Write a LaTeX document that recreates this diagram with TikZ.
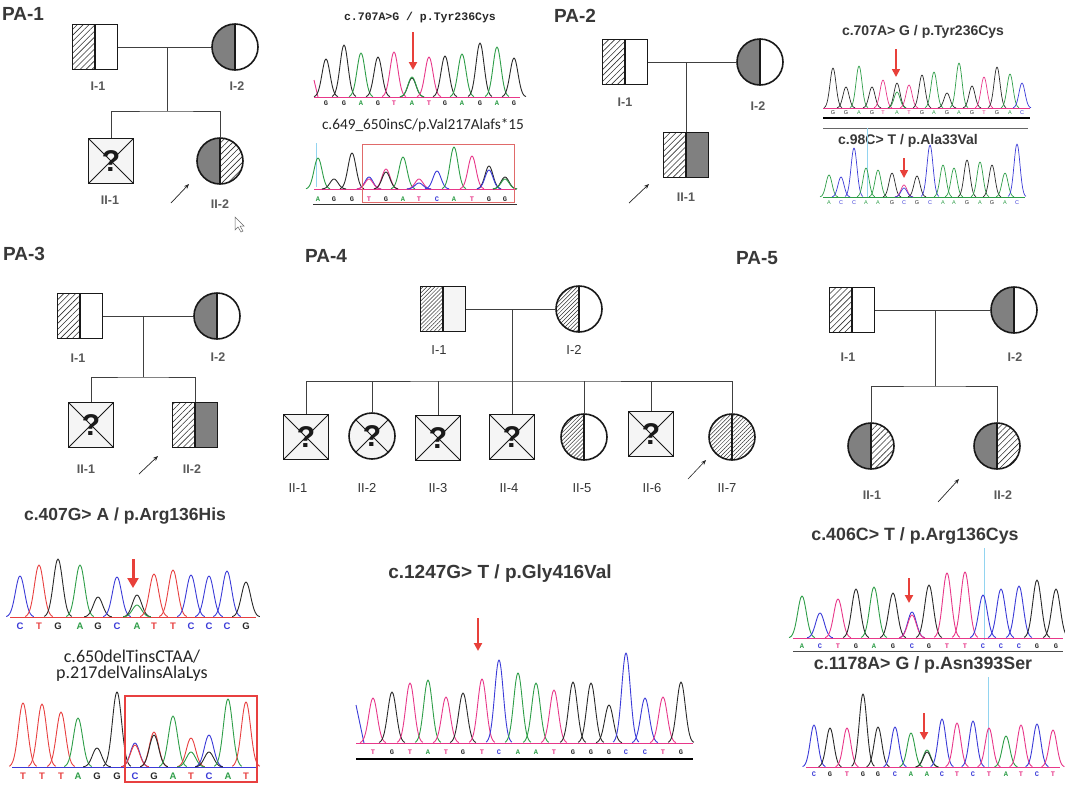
\documentclass[tikz,border=0pt]{standalone}
\usepackage{fontspec}
\setmainfont{Liberation Sans}
\newfontfamily\carlito{Carlito}
\newfontfamily\courierb{Liberation Mono}
\usetikzlibrary{patterns.meta,arrows.meta}

\definecolor{seqA}{HTML}{2E9E48}
\definecolor{seqC}{HTML}{3B3BD8}
\definecolor{seqG}{HTML}{2A2A2A}
\definecolor{seqT}{HTML}{E8388A}
\definecolor{seqR}{HTML}{E84040}
\definecolor{arrowred}{HTML}{E8403A}
\definecolor{boxred}{HTML}{E06A6A}
\definecolor{cyanline}{HTML}{92D4F0}

% one peak per base: x/top/colour
\newcommand{\trace}[4][]{%
  \foreach \px/\py/\pc in {#4}{
    \draw[\pc, line width=0.9pt, line join=round, #1]
      plot[domain=-3*#3:3*#3, samples=25, smooth] ({\px+\x},{#2-(#2-\py)*exp(-(\x*\x)/(2*#3*#3))});
  }}
% base calls: x/letter/colour
\newcommand{\calls}[4]{%
  \foreach \bx/\bl/\bc [count=\bi] in {#4}
    \node[#3, text=\bc] (#1\bi) at (\bx,#2) {\bl};}

\tikzset{
  link/.style={draw=black!75, line width=0.8pt},
  ppl/.style={draw=black!90, line width=1.6pt, inner sep=0pt, minimum size=45pt},
  male/.style={ppl, rectangle},
  female/.style={ppl, circle, minimum size=46pt},
  halves/.style 2 args={path picture={
      \path[#1] (path picture bounding box.south west) rectangle (path picture bounding box.north);
      \path[#2] (path picture bounding box.south) rectangle (path picture bounding box.north east);
      \draw (path picture bounding box.south) -- (path picture bounding box.north);}},
  hatchfill/.style={pattern={Lines[angle=45,distance=4.2pt,line width=0.6pt]}, pattern color=black!80},
  finehatch/.style={pattern={Lines[angle=45,distance=2.8pt,line width=0.5pt]}, pattern color=black!80},
  grayfill/.style={fill=black!50},
  whitefill/.style={fill=white},
  palefill/.style={fill=black!4},
  unknown/.style={fill=black!4, font=\bfseries\fontsize{30}{30}\selectfont, text=black!90,
      path picture={\draw[line width=0.8pt]
        (path picture bounding box.south west) -- (path picture bounding box.north east)
        (path picture bounding box.north west) -- (path picture bounding box.south east);}},
  thinped/.style={line width=0.8pt},
  plabel/.style={font=\bfseries\fontsize{12.5}{13}\selectfont, text=black!65},
  thinlabel/.style={font=\fontsize{13}{14}\selectfont, text=black!80},
  ptitle/.style={font=\bfseries\fontsize{19}{20}\selectfont, text=black!78},
  vtitle/.style={font=\bfseries\fontsize{#1}{#1}\selectfont, text=black!78},
  ctitle/.style={font=\carlito\fontsize{#1}{#1}\selectfont, text=black!85},
  proband/.style={draw=black!85, line width=0.7pt, -{Stealth[length=5pt,width=4pt]}},
  redarrow/.style={draw=arrowred, line width=2pt, -{Triangle[length=8pt,width=8pt]}},
  monocall/.style={font=\courierb\bfseries\fontsize{7}{8}\selectfont, inner sep=0pt},
  tinycall/.style={font=\fontsize{5.5}{6}\selectfont, inner sep=0pt},
  boldcall/.style={font=\bfseries\fontsize{9.5}{10}\selectfont, inner sep=0pt},
}

\begin{document}
\begin{tikzpicture}[x=1pt,y=-1pt]
\fill[white] (0,0) rectangle (1065,785);
\useasboundingbox (0,0) rectangle (1065,785);

% ---------------- PA-1
\node[ptitle] (pa1) at (23,14) {PA-1};
\node[male, halves={hatchfill}{whitefill}] (a1) at (95,47) {};
\node[female, halves={grayfill}{whitefill}] (a2) at (235,47) {};
\node[male, unknown] (a3) at (111,161) {?};
\node[female, halves={grayfill}{hatchfill}] (a4) at (220,161) {};
\coordinate (a12) at (167,47);
\coordinate (a34) at (167,111);
\draw[link] (a1) -- (a2);
\draw[link] (a12) -- (a34);
\draw[link] (a3.north) |- (a34) -| (a4.north);
\node[plabel] (a1l) at (98,86) {I-1};
\node[plabel] (a2l) at (237,86) {I-2};
\node[plabel] (a3l) at (110,200) {II-1};
\node[plabel] (a4l) at (220,204) {II-2};
\draw[proband] (171,203) -- (189,184);
\filldraw[fill=white, draw=black!60, line width=0.5pt]
  (235,217) -- (235,230) -- (238,227) -- (241,232) -- (243,231) -- (240,226) -- (244,226) -- cycle;

\node[font=\courierb\bfseries\fontsize{11.5}{12}\selectfont, text=black!85] (ta1) at (420,18) {c.707A>G / p.Tyr236Cys};
\draw[redarrow] (413,32) -- (413,70);
\draw[seqT, line width=0.5pt] (314,97) -- (520,97);
\draw[seqT, line width=0.9pt] (314,80) -- (318,97);
\trace{97}{4}{326/59/seqG, 344/45/seqG, 361/53/seqA, 378/57/seqG, 394/52/seqT, 412/78/seqG, 412/77/seqA, 429/57/seqT, 445/56/seqG, 462/54/seqA, 480/43/seqG, 497/47/seqA, 514/58/seqG}
\calls{ka}{103}{monocall}{326/G/seqG, 344/G/seqG, 361/A/seqA, 378/G/seqG, 394/T/seqT, 412/A/seqA, 429/T/seqT, 445/G/seqG, 462/A/seqA, 480/G/seqG, 497/A/seqA, 514/G/seqG}

\node[ctitle=15.3] (ta2) at (423,125) {c.649\_650insC/p.Val217Alafs*15};
\draw[cyanline, line width=0.8pt] (316,143) -- (316,187);
\draw[seqT, line width=0.5pt] (314,189) -- (516,189);
\trace{189}{4}{318/158/seqA, 334/179/seqG, 352/153/seqG, 369/177/seqC, 369/179/seqT, 386/169/seqT, 386/172/seqG, 403/157/seqA, 419/179/seqT, 419/183/seqC, 437/171/seqC, 454/147/seqA, 472/156/seqT, 489/166/seqG, 489/170/seqC, 505/177/seqG, 505/179/seqA}
\calls{kb}{199}{monocall}{318/A/seqA, 334/G/seqG, 352/G/seqG, 369/T/seqT, 386/G/seqG, 403/A/seqA, 419/T/seqT, 437/C/seqC, 454/A/seqA, 472/T/seqT, 489/G/seqG, 505/G/seqG}
\draw[boxred, line width=0.9pt] (362,144) rectangle (514,202);
\draw[black!80, line width=0.9pt] (313,204.5) -- (517,204.5);

% ---------------- PA-2
\node[ptitle] (pa2) at (575,16) {PA-2};
\node[male, halves={hatchfill}{whitefill}] (b1) at (625,62) {};
\node[female, halves={grayfill}{whitefill}] (b2) at (760,62) {};
\node[male, halves={hatchfill}{grayfill}] (b3) at (686,155) {};
\coordinate (b12) at (686,62);
\draw[link] (b1) -- (b2);
\draw[link] (b12) -- (b3.north);
\node[plabel] (b1l) at (625,102) {I-1};
\node[plabel] (b2l) at (758,106) {I-2};
\node[plabel] (b3l) at (686,197) {II-1};
\draw[proband] (629,203) -- (649,184);

\node[vtitle=14] (tb1) at (923,32) {c.707A> G / p.Tyr236Cys};
\draw[redarrow, line width=1.6pt] (896,49) -- (896,77);
\draw[seqT, line width=0.4pt] (823,108) -- (1030,108);
\trace[line width=0.7pt]{108}{3}{833/68/seqG, 846/87/seqG, 859/66/seqA, 872/87/seqG, 883/80/seqT, 897/83/seqG, 897/92/seqA, 909/85/seqT, 922/75/seqG, 934/72/seqA, 947/93/seqG, 959/63/seqA, 972/86/seqG, 984/77/seqT, 997/67/seqG, 1010/74/seqA, 1022/83/seqC}
\calls{kc}{113}{tinycall}{833/G/seqG, 846/G/seqG, 859/A/seqA, 872/G/seqG, 883/T/seqT, 897/A/seqA, 909/T/seqT, 922/G/seqG, 934/A/seqA, 947/G/seqG, 959/A/seqA, 972/G/seqG, 984/T/seqT, 997/G/seqG, 1010/A/seqA, 1022/C/seqC}
\draw[black, line width=1.4pt] (823,118) -- (1030,118);
\draw[black!60, line width=0.6pt] (823,128) -- (1028,128);

\node[vtitle=14] (tb2) at (908,141) {c.98C> T / p.Ala33Val};
\draw[cyanline, line width=0.7pt] (867,128) -- (867,197);
\draw[redarrow, line width=1.6pt] (904,158) -- (904,178);
\draw[seqA, line width=0.4pt] (823,197) -- (1025,197);
\trace[line width=0.7pt]{197}{3}{829/175/seqA, 841/177/seqC, 854/148/seqC, 866/168/seqA, 878/170/seqA, 892/173/seqG, 904/185/seqT, 904/188/seqC, 917/176/seqG, 930/145/seqC, 943/165/seqA, 954/168/seqA, 967/160/seqG, 980/162/seqA, 992/165/seqG, 1005/173/seqA, 1017/144/seqC}
\calls{kd}{203}{tinycall}{829/A/seqA, 841/C/seqC, 854/C/seqC, 866/A/seqA, 878/A/seqA, 892/G/seqG, 904/C/seqC, 917/G/seqG, 930/C/seqC, 943/A/seqA, 954/A/seqA, 967/G/seqG, 980/A/seqA, 992/G/seqG, 1005/A/seqA, 1017/C/seqC}

% ---------------- PA-3
\node[ptitle] (pa3) at (24,254) {PA-3};
\node[male, halves={hatchfill}{whitefill}] (c1) at (80,316) {};
\node[female, halves={grayfill}{whitefill}] (c2) at (217,316) {};
\node[male, unknown] (c3) at (91,425) {?};
\node[male, halves={hatchfill}{grayfill}] (c4) at (195,425) {};
\coordinate (c12) at (143,316);
\coordinate (c34) at (143,377);
\draw[link] (c1) -- (c2);
\draw[link] (c12) -- (c34);
\draw[link] (c3.north) |- (c34) -| (c4.north);
\node[plabel] (c1l) at (78,358) {I-1};
\node[plabel] (c2l) at (218,357) {I-2};
\node[plabel] (c3l) at (86,469) {II-1};
\node[plabel] (c4l) at (192,469) {II-2};
\draw[proband] (139,474) -- (158,456);

\node[vtitle=17.5] (tc1) at (125,516) {c.407G> A / p.Arg136His};
\draw[redarrow, line width=3pt, -{Triangle[length=10pt,width=11pt]}] (133,559) -- (133,588);
\draw[seqR, line width=0.6pt] (10,617) -- (256,617);
\trace{617}{4.6}{20/576/seqC, 39/565/seqR, 58/559/seqG, 80/565/seqA, 98/597/seqG, 117/577/seqC, 137/595/seqG, 137/605/seqA, 154/574/seqR, 173/570/seqR, 191/575/seqC, 209/576/seqC, 227/571/seqC, 246/582/seqG}
\calls{ke}{626}{boldcall}{20/C/seqC, 39/T/seqR, 58/G/seqG, 80/A/seqA, 98/G/seqG, 117/C/seqC, 137/A/seqA, 154/T/seqR, 173/T/seqR, 191/C/seqC, 209/C/seqC, 227/C/seqC, 246/G/seqG}

\node[ctitle=18] (tc2) at (132,657) {c.650delTinsCTAA/};
\node[ctitle=18] (tc3) at (132,674) {p.217delValinsAlaLys};
\draw[seqC, line width=0.5pt] (12,767) -- (256,767);
\trace{767}{4.6}{23/703/seqR, 42/704/seqR, 61/712/seqR, 78/718/seqA, 97/748/seqG, 117/692/seqG, 135/743/seqC, 135/745/seqR, 154/732/seqR, 154/735/seqG, 173/716/seqA, 191/738/seqR, 191/752/seqA, 209/735/seqC, 209/752/seqG, 228/699/seqA, 246/702/seqR}
\calls{kf}{776}{boldcall}{23/T/seqR, 42/T/seqR, 61/T/seqR, 78/A/seqA, 97/G/seqG, 117/G/seqG, 135/C/seqC, 154/G/seqG, 173/A/seqA, 191/T/seqR, 209/C/seqC, 228/A/seqA, 246/T/seqR}
\draw[seqR, line width=2pt] (125,696) rectangle (257,782);

% ---------------- PA-4
\node[ptitle] (pa4) at (326,256) {PA-4};
\begin{scope}[every node/.append style={thinped}]
\node[male, halves={finehatch}{palefill}] (d1) at (443,309) {};
\node[female, halves={finehatch}{whitefill}] (d2) at (579,309) {};
\node[male, unknown] (d3) at (306,437) {?};
\node[female, unknown] (d4) at (372,436) {?};
\node[male, unknown] (d5) at (438,438) {?};
\node[male, unknown] (d6) at (512,437) {?};
\node[female, halves={finehatch}{whitefill}] (d7) at (584,437) {};
\node[male, unknown] (d8) at (651,434) {?};
\node[female, halves={finehatch}{finehatch}] (d9) at (732,437) {};
\end{scope}
\coordinate (d12) at (512,309);
\coordinate (d39) at (512,381);
\draw[link, line width=0.7pt] (d1) -- (d2);
\draw[link, line width=0.7pt] (d12) -- (d39);
\draw[link, line width=0.7pt] (d3.north) |- (d39) -| (d9.north);
\foreach \k in {4,...,8}
  \draw[link, line width=0.7pt] (d\k.north) -- (d\k.north |- d39);
\node[thinlabel] (d1l) at (439,350) {I-1};
\node[thinlabel] (d2l) at (574,350) {I-2};
\foreach \k/\lx [count=\n] in {3/298, 4/367, 5/438, 6/509, 7/582, 8/652, 9/727}
  \node[thinlabel] (d\k l) at (\lx,488) {II-\n};
\draw[proband, line width=0.6pt] (688,479) -- (706,460);

\node[vtitle=19] (td1) at (500,574) {c.1247G> T / p.Gly416Val};
\draw[redarrow] (478,618) -- (478,651);
\draw[seqT, line width=0.5pt] (356,743) -- (693,743);
\draw[seqC, line width=0.9pt] (356,705) -- (364,743);
\trace{743}{4.3}{373/698/seqT, 392/692/seqG, 410/683/seqT, 428/680/seqA, 446/697/seqT, 463/693/seqG, 482/679/seqT, 499/660/seqC, 518/673/seqA, 536/683/seqA, 554/690/seqT, 573/682/seqG, 591/683/seqG, 609/705/seqG, 626/653/seqC, 645/698/seqC, 663/697/seqT, 681/682/seqG}
\calls{kg}{752}{monocall}{373/T/seqT, 392/G/seqG, 410/T/seqT, 428/A/seqA, 446/T/seqT, 463/G/seqG, 482/T/seqT, 499/C/seqC, 518/A/seqA, 536/A/seqA, 554/T/seqT, 573/G/seqG, 591/G/seqG, 609/G/seqG, 626/C/seqC, 645/C/seqC, 663/T/seqT, 681/G/seqG}
\draw[black, line width=2pt] (356,759) -- (693,759);

% ---------------- PA-5
\node[ptitle] (pa5) at (757,258) {PA-5};
\begin{scope}[every node/.append style={minimum size=52pt}]
\node[male, halves={hatchfill}{whitefill}] (e1) at (852,310) {};
\node[female, halves={grayfill}{whitefill}] (e2) at (1014,310) {};
\node[female, halves={grayfill}{hatchfill}] (e3) at (871,446) {};
\node[female, halves={grayfill}{hatchfill}] (e4) at (997,446) {};
\end{scope}
\coordinate (e12) at (935,310);
\coordinate (e34) at (935,386);
\draw[link] (e1) -- (e2);
\draw[link] (e12) -- (e34);
\draw[link] (e3.north) |- (e34) -| (e4.north);
\node[plabel] (e1l) at (848,357) {I-1};
\node[plabel] (e2l) at (1015,357) {I-2};
\node[plabel] (e3l) at (872,495) {II-1};
\node[plabel] (e4l) at (1003,495) {II-2};
\draw[proband] (938,502) -- (959,479);

\node[vtitle=17.8] (te1) at (915,536) {c.406C> T / p.Arg136Cys};
\draw[cyanline, line width=0.7pt] (984,548) -- (984,640);
\draw[redarrow] (909,578) -- (909,603);
\draw[seqT, line width=0.5pt] (793,638) -- (1063,638);
\trace{638}{4.3}{802/596/seqA, 820/613/seqC, 838/599/seqT, 856/589/seqG, 874/587/seqA, 893/593/seqG, 912/612/seqC, 912/615/seqT, 929/585/seqG, 947/573/seqT, 965/572/seqT, 983/595/seqC, 1001/589/seqC, 1019/586/seqC, 1037/580/seqG, 1056/589/seqG}
\calls{kh}{646}{monocall}{802/A/seqA, 820/C/seqC, 838/T/seqT, 856/G/seqG, 874/A/seqA, 893/G/seqG, 912/C/seqC, 929/G/seqG, 947/T/seqT, 965/T/seqT, 983/C/seqC, 1001/C/seqC, 1019/C/seqC, 1037/G/seqG, 1056/G/seqG}
\draw[black!70, line width=0.8pt] (793,651) -- (1063,651);

\node[vtitle=17.8] (te2) at (923,665) {c.1178A> G / p.Asn393Ser};
\draw[cyanline, line width=0.7pt] (988,677) -- (988,767);
\draw[redarrow] (924,713) -- (924,740);
\draw[seqT, line width=0.5pt] (806,767) -- (1060,767);
\trace{767}{3.8}{814/725/seqC, 830/728/seqG, 847/728/seqT, 863/694/seqG, 878/727/seqG, 895/727/seqC, 911/733/seqA, 927/750/seqA, 927/752/seqG, 942/719/seqC, 957/723/seqT, 973/721/seqC, 989/728/seqT, 1006/736/seqA, 1021/725/seqT, 1037/724/seqC, 1053/730/seqT}
\calls{ki}{774}{monocall}{814/C/seqC, 830/G/seqG, 847/T/seqT, 863/G/seqG, 878/G/seqG, 895/C/seqC, 911/A/seqA, 927/A/seqA, 942/C/seqC, 957/T/seqT, 973/C/seqC, 989/T/seqT, 1006/A/seqA, 1021/T/seqT, 1037/C/seqC, 1053/T/seqT}
\end{tikzpicture}
\end{document}
